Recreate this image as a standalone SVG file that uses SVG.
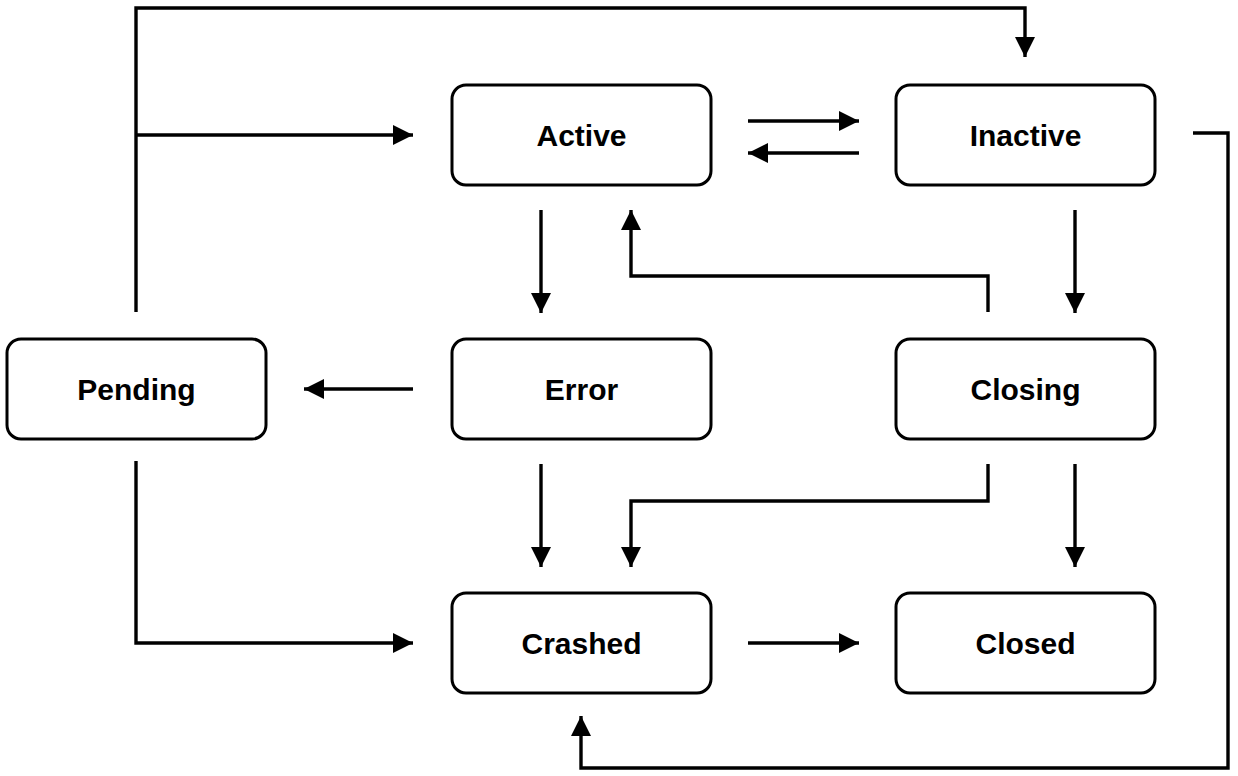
<svg xmlns="http://www.w3.org/2000/svg" width="1238" height="776" viewBox="0 0 1238 776">
<defs>
<style>
.node rect{fill:#fff;stroke:#000;stroke-width:3}
.node text{font-family:"Liberation Sans",Arial,sans-serif;font-weight:bold;font-size:30px;text-anchor:middle;fill:#000}
.edges path{fill:none;stroke:#000;stroke-width:3.4}
</style>
<marker id="ah" viewBox="0 0 20 20" refX="20" refY="10" markerWidth="20" markerHeight="20" markerUnits="userSpaceOnUse" orient="auto">
<path d="M0,0 L20,10 L0,20 Z" fill="#000"/>
</marker>
</defs>
<rect width="1238" height="776" fill="#fff"/>
<g id="n-active" class="node"><rect x="452" y="85" width="259" height="100" rx="14"/><text x="581.5" y="146">Active</text></g>
<g id="n-inactive" class="node"><rect x="896" y="85" width="259" height="100" rx="14"/><text x="1025.5" y="146">Inactive</text></g>
<g id="n-pending" class="node"><rect x="7" y="339" width="259" height="100" rx="14"/><text x="136.5" y="400">Pending</text></g>
<g id="n-error" class="node"><rect x="452" y="339" width="259" height="100" rx="14"/><text x="581.5" y="400">Error</text></g>
<g id="n-closing" class="node"><rect x="896" y="339" width="259" height="100" rx="14"/><text x="1025.5" y="400">Closing</text></g>
<g id="n-crashed" class="node"><rect x="452" y="593" width="259" height="100" rx="14"/><text x="581.5" y="654">Crashed</text></g>
<g id="n-closed" class="node"><rect x="896" y="593" width="259" height="100" rx="14"/><text x="1025.5" y="654">Closed</text></g>
<g id="edges" class="edges">
<path d="M136,312 V8 H1025 V57" marker-end="url(#ah)"/>
<path d="M136,135 H413" marker-end="url(#ah)"/>
<path d="M748,121 H859" marker-end="url(#ah)"/>
<path d="M859,153 H748" marker-end="url(#ah)"/>
<path d="M1193,133 H1228 V768 H581 V716" marker-end="url(#ah)"/>
<path d="M541,210 V313" marker-end="url(#ah)"/>
<path d="M988,312 V276 H631 V210" marker-end="url(#ah)"/>
<path d="M1075,210 V313" marker-end="url(#ah)"/>
<path d="M413,389 H304" marker-end="url(#ah)"/>
<path d="M541,464 V567" marker-end="url(#ah)"/>
<path d="M988,464 V501 H631 V567" marker-end="url(#ah)"/>
<path d="M1075,464 V567" marker-end="url(#ah)"/>
<path d="M136,461 V643 H413" marker-end="url(#ah)"/>
<path d="M748,643 H859" marker-end="url(#ah)"/>
</g>
</svg>
